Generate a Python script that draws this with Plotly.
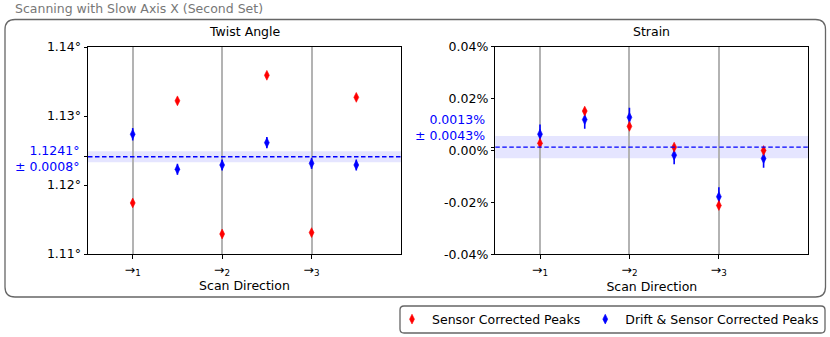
import plotly.graph_objects as go

W, H = 830, 337

# ---------------- data ----------------
positions = [1.0, 1.5, 2.0, 2.5, 3.0, 3.5]
dir_ticks = [1, 2, 3]
dir_labels = ["→<sub>1</sub>", "→<sub>2</sub>", "→<sub>3</sub>"]

twist_sensor = [1.1174, 1.1322, 1.1129, 1.1359, 1.1131, 1.1327]
twist_sensor_err = [0.0002, 0.0002, 0.0002, 0.0002, 0.0002, 0.0002]
twist_drift = [1.12735, 1.12228, 1.1229, 1.12614, 1.12314, 1.1229]
twist_drift_err = [0.0009, 0.0008, 0.0008, 0.0008, 0.0008, 0.0008]
twist_mean, twist_mean_err = 1.1241, 0.0008
twist_ticks = [1.11, 1.12, 1.13, 1.14]
twist_ticktext = ["1.11°", "1.12°", "1.13°", "1.14°"]

strain_sensor = [0.0028, 0.0152, 0.0093, 0.0013, -0.0212, 0.0000]
strain_sensor_err = [0.0007, 0.0007, 0.0007, 0.0007, 0.0007, 0.0007]
strain_drift = [0.0063, 0.0119, 0.0128, -0.0018, -0.0178, -0.0031]
strain_drift_err = [0.0037, 0.0035, 0.0037, 0.0035, 0.0036, 0.0035]
strain_mean, strain_mean_err = 0.0013, 0.0043
strain_ticks = [-0.04, -0.02, 0.0, 0.02, 0.04]
strain_ticktext = ["-0.04%", "-0.02%", "0.00%", "0.02%", "0.04%"]

FONT = "DejaVu Sans"
FS = 12.5


def px(x):
    return x / W


def py(y):
    return 1 - y / H


fig = go.Figure()

panels = [
    ("x", "y", twist_sensor, twist_sensor_err, twist_drift, twist_drift_err, True),
    ("x2", "y2", strain_sensor, strain_sensor_err, strain_drift, strain_drift_err, False),
]
for xa, ya, sv, se, dv, de, show in panels:
    fig.add_trace(go.Scatter(
        x=positions, y=dv, mode="markers", name="Drift & Sensor Corrected Peaks",
        xaxis=xa, yaxis=ya, showlegend=show, legendrank=2,
        marker=dict(symbol="diamond-tall", size=7, color="blue", line=dict(color="blue", width=0.6)),
        error_y=dict(type="data", array=de, color="blue", thickness=1.6, width=0),
    ))
    fig.add_trace(go.Scatter(
        x=positions, y=sv, mode="markers", name="Sensor Corrected Peaks",
        xaxis=xa, yaxis=ya, showlegend=show, legendrank=1,
        marker=dict(symbol="diamond-tall", size=7, color="red", line=dict(color="red", width=0.6)),
        error_y=dict(type="data", array=se, color="red", thickness=1.6, width=0),
    ))

axis_common = dict(showline=True, linecolor="black", linewidth=1, mirror=True,
                   ticks="outside", ticklen=3.5, tickcolor="black", zeroline=False,
                   automargin=False,
                   tickfont=dict(family=FONT, size=FS, color="black"))

xcommon = dict(axis_common, range=[0.5, 4.0], tickvals=dir_ticks, ticktext=dir_labels,
               showgrid=True, gridcolor="#b3b3b3", gridwidth=2,
               title=dict(text="Scan Direction", font=dict(family=FONT, size=FS, color="black"),
                          standoff=4))

fig.update_layout(
    width=W, height=H,
    margin=dict(l=0, r=0, t=0, b=0, pad=0, autoexpand=False),
    paper_bgcolor="white", plot_bgcolor="white",
    font=dict(family=FONT, size=FS, color="black"),
    xaxis=dict(xcommon, domain=[px(88), px(401)], anchor="y"),
    xaxis2=dict(xcommon, domain=[px(495.3), px(808.3)], anchor="y2"),
    yaxis=dict(axis_common, domain=[py(254), py(47)], anchor="x", range=[1.11, 1.14],
               tickvals=twist_ticks + [twist_mean], ticktext=twist_ticktext + [""],
               showgrid=False),
    yaxis2=dict(axis_common, domain=[py(254.3), py(46.7)], anchor="x2", range=[-0.04, 0.04],
                tickvals=strain_ticks + [strain_mean], ticktext=strain_ticktext + [""],
                showgrid=False),
    showlegend=True,
    legend=dict(orientation="h", x=px(824), xanchor="right", y=py(319.5), yanchor="middle",
                bgcolor="rgba(0,0,0,0)", borderwidth=0,
                font=dict(family=FONT, size=FS, color="black"), itemwidth=30,
                traceorder="normal"),
)

# mean lines and bands
for xa, ya, m, e in [("x", "y", twist_mean, twist_mean_err), ("x2", "y2", strain_mean, strain_mean_err)]:
    fig.add_shape(type="rect", xref=f"{xa} domain", yref=ya, x0=0, x1=1, y0=m - e, y1=m + e,
                  fillcolor="rgba(0,0,255,0.1)", line=dict(width=0), layer="below")
    fig.add_shape(type="line", xref=f"{xa} domain", yref=ya, x0=0, x1=1, y0=m, y1=m,
                  line=dict(color="blue", width=1.4, dash="4.5px,2.5px"), layer="above")

# blue mean labels
fig.add_annotation(xref="x domain", yref="y", x=0, y=twist_mean, xanchor="right", yanchor="middle",
                   xshift=-7, yshift=-2, showarrow=False, align="right",
                   text=f"{twist_mean:.4f}°<br>± {twist_mean_err:.4f}°",
                   font=dict(family=FONT, size=FS, color="blue"))
fig.add_annotation(xref="x2 domain", yref="y2", x=0, y=strain_mean, xanchor="right", yanchor="middle",
                   xshift=-8, yshift=20, showarrow=False, align="right",
                   text=f"{strain_mean:.4f}%<br>± {strain_mean_err:.4f}%",
                   font=dict(family=FONT, size=FS, color="blue"))

# subplot titles
for txt, cx in [("Twist Angle", (88 + 401) / 2), ("Strain", (495.3 + 808.3) / 2)]:
    fig.add_annotation(xref="paper", yref="paper", x=px(cx), y=py(32), xanchor="center",
                       yanchor="middle", showarrow=False, text=txt,
                       font=dict(family=FONT, size=FS, color="black"))

# overall title
fig.add_annotation(xref="paper", yref="paper", x=px(13), y=py(8), xanchor="left", yanchor="middle",
                   showarrow=False, text="Scanning with Slow Axis X (Second Set)",
                   font=dict(family=FONT, size=FS, color="#777777"))


def rounded(x0, y0, x1, y1, r):
    rx, ry = r / W, r / H
    X0, X1 = px(x0), px(x1)
    Y0, Y1 = py(y0), py(y1)  # Y0 top, Y1 bottom
    return (f"M {X0 + rx},{Y0} L {X1 - rx},{Y0} Q {X1},{Y0} {X1},{Y0 - ry} "
            f"L {X1},{Y1 + ry} Q {X1},{Y1} {X1 - rx},{Y1} "
            f"L {X0 + rx},{Y1} Q {X0},{Y1} {X0},{Y1 + ry} "
            f"L {X0},{Y0 - ry} Q {X0},{Y0} {X0 + rx},{Y0} Z")


fig.add_shape(type="path", xref="paper", yref="paper", path=rounded(5, 19.5, 825.5, 297, 10),
              line=dict(color="#666666", width=1.3), fillcolor="rgba(0,0,0,0)", layer="below")
fig.add_shape(type="path", xref="paper", yref="paper", path=rounded(400, 306, 825, 333, 4),
              line=dict(color="#666666", width=1.3), fillcolor="rgba(0,0,0,0)", layer="below")

fig.write_html("out.html", config={"displayModeBar": False},
               post_script="document.body.style.margin='0px';")
